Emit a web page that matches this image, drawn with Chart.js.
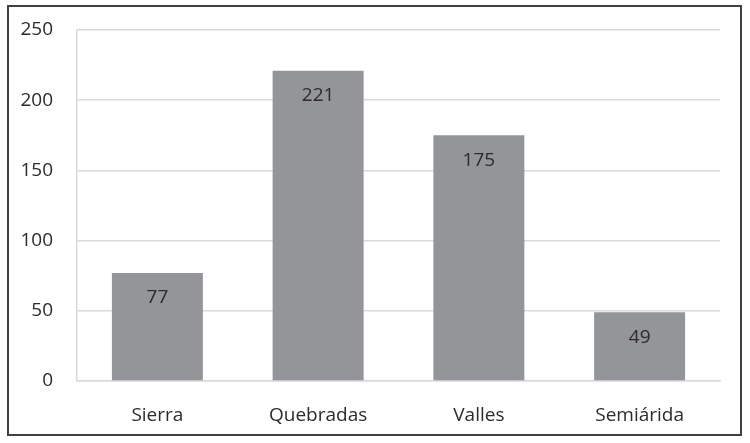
<!DOCTYPE html>
<html>
<head>
<meta charset="utf-8">
<script src="https://cdn.jsdelivr.net/npm/chart.js@4.4.1/dist/chart.umd.min.js"></script>
<style>
  html, body { margin: 0; padding: 0; background: #fff; }
  #wrap { width: 750px; height: 443px; position: relative; }
</style>
</head>
<body>
<div id="wrap"><canvas id="barChart" width="750" height="443"></canvas></div>
<script>
const categories = ['Sierra', 'Quebradas', 'Valles', 'Semiárida'];
const values = [77, 221, 175, 49];
const yTicks = [0, 50, 100, 150, 200, 250];

const FONT = '"Open Sans", "Noto Sans", sans-serif';
const TEXT_COLOR = '#2b2b2b';

// frame around the whole picture
const framePlugin = {
    id: 'frame',
    beforeDraw(chart) {
        const c = chart.ctx;
        c.save();
        c.fillStyle = '#fff';
        c.fillRect(0, 0, chart.width, chart.height);
        c.strokeStyle = '#404040';
        c.lineWidth = 2;
        c.strokeRect(8, 6, 733, 429);
        c.restore();
    }
};

// value labels inside the top of each bar
const barLabels = {
    id: 'barLabels',
    afterDatasetsDraw(chart) {
        const c = chart.ctx;
        const meta = chart.getDatasetMeta(0);
        c.save();
        c.font = '19px ' + FONT;
        c.fillStyle = '#2b2b2b';
        c.textAlign = 'center';
        c.textBaseline = 'middle';
        meta.data.forEach((bar, i) => {
            c.fillText(String(values[i]), bar.x, bar.y + 25);
        });
        c.restore();
    }
};

const ctx = document.getElementById('barChart').getContext('2d');
new Chart(ctx, {
    type: 'bar',
    data: {
        labels: categories,
        datasets: [{
            data: values,
            backgroundColor: '#949599',
            borderWidth: 0,
            categoryPercentage: 1,
            barPercentage: 0.566
        }]
    },
    options: {
        responsive: false,
        animation: false,
        layout: { padding: { top: 30, right: 30, left: 0, bottom: 0 } },
        plugins: {
            legend: { display: false },
            tooltip: { enabled: false }
        },
        scales: {
            x: {
                grid: { display: false },
                border: { color: '#d9d9d9', width: 1.5 },
                ticks: {
                    color: TEXT_COLOR,
                    font: { family: FONT, size: 19 },
                    padding: 15
                },
                afterFit(scale) {
                    scale.height = 62;
                    scale.paddingLeft = 0;
                    scale.paddingRight = 0;
                }
            },
            y: {
                min: 0,
                max: 250,
                afterBuildTicks(scale) {
                    scale.ticks = yTicks.map(v => ({ value: v }));
                },
                grid: { color: '#d9d9d9', lineWidth: 1.5, drawTicks: false },
                border: { color: '#d9d9d9', width: 1.5 },
                ticks: {
                    color: TEXT_COLOR,
                    font: { family: FONT, size: 19 },
                    padding: 24
                },
                afterFit(scale) {
                    scale.width = 77;
                    scale.paddingTop = 0;
                    scale.paddingBottom = 0;
                }
            }
        }
    },
    plugins: [framePlugin, barLabels]
});
</script>
</body>
</html>
